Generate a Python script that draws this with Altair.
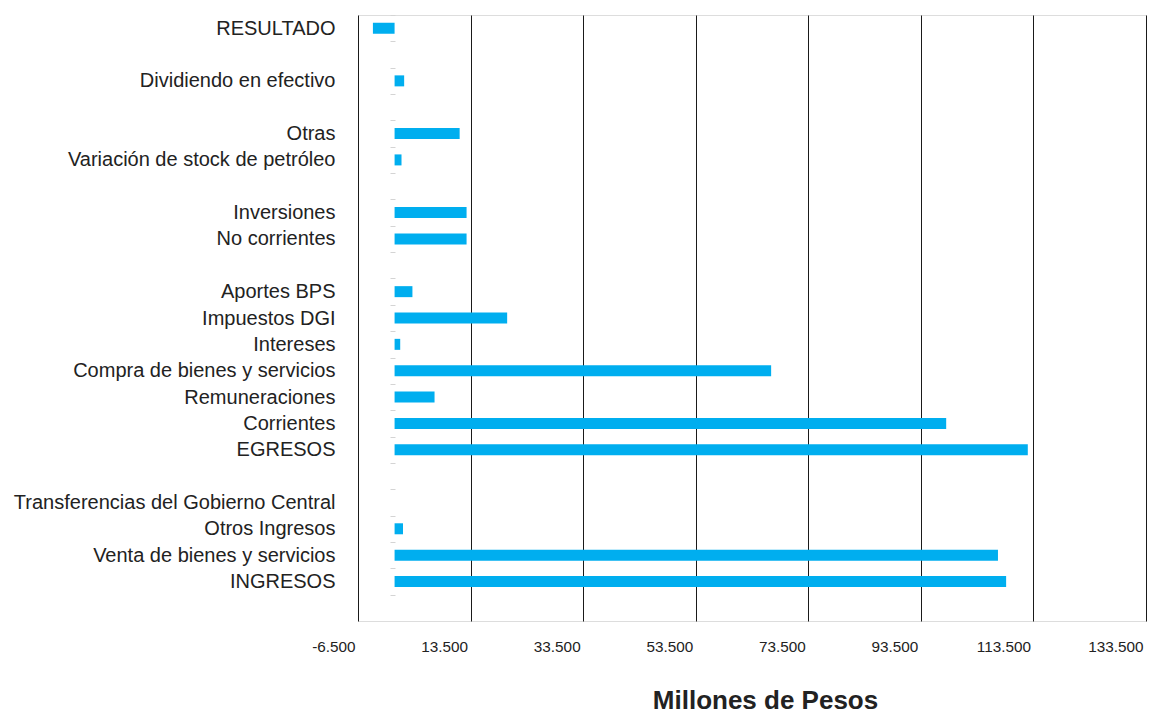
import altair as alt
import pandas as pd

# Row order (top to bottom); blank strings are empty separator rows
row_order = [
    "RESULTADO", " ",
    "Dividiendo en efectivo", "  ",
    "Otras", "Variación de stock de petróleo", "   ",
    "Inversiones", "No corrientes", "    ",
    "Aportes BPS", "Impuestos DGI", "Intereses", "Compra de bienes y servicios",
    "Remuneraciones", "Corrientes", "EGRESOS", "     ",
    "Transferencias del Gobierno Central", "Otros Ingresos",
    "Venta de bienes y servicios", "INGRESOS",
]

items = [
    "RESULTADO", "Dividiendo en efectivo", "Otras", "Variación de stock de petróleo",
    "Inversiones", "No corrientes", "Aportes BPS", "Impuestos DGI", "Intereses",
    "Compra de bienes y servicios", "Remuneraciones", "Corrientes", "EGRESOS",
    "Transferencias del Gobierno Central", "Otros Ingresos",
    "Venta de bienes y servicios", "INGRESOS",
]
values = [
    -3850, 1700, 11560, 1230,
    12790, 12790, 3170, 20000, 1000,
    66900, 7100, 98000, 112500,
    0, 1500,
    107200, 108650,
]

tick_values = [-6500, 13500, 33500, 53500, 73500, 93500, 113500, 133500]

df = pd.DataFrame({"item": items, "value": values})

chart = (
    alt.Chart(df)
    .mark_bar(size=11, color="#00AEEF")
    .encode(
        x=alt.X(
            "value:Q",
            scale=alt.Scale(domain=[-6500, 133500], nice=False, zero=False),
            axis=alt.Axis(
                values=tick_values,
                grid=True,
                gridColor="#1a1a1a",
                gridWidth=1,
                domain=False,
                ticks=False,
                labelExpr="replace(replace(format(datum.value, ','), ',', '.'), '\u2212', '-')",
                labelFont="Liberation Sans",
                labelFontSize=15.3,
                labelColor="#222222",
                labelAlign="right",
                labelOffset=-3,
                labelPadding=18,
                title="Millones de Pesos",
                titleFont="Liberation Sans",
                titleFontSize=26,
                titleFontWeight="bold",
                titleColor="#222222",
                titleBaseline="alphabetic",
                titleAlign="center",
                titleX=407,
                titleY=87,
            ),
        ),
        y=alt.Y(
            "item:N",
            sort=row_order,
            scale=alt.Scale(domain=row_order, paddingInner=0, paddingOuter=0.5, align=0),
            axis=alt.Axis(
                title=None,
                domain=False,
                grid=False,
                offset=-37,
                tickBand="extent",
                tickColor="#d4d4d4",
                tickSize=5,
                tickWidth=1,
                labelPadding=55,
                labelFont="Liberation Sans",
                labelFontSize=20,
                labelColor="#222222",
                labelLimit=0,
            ),
        ),
    )
    .properties(
        width=788,
        height=606,
        padding={"left": 350, "top": 7, "right": 1, "bottom": 94},
        autosize=alt.AutoSizeParams(type="none"),
    )
    .configure_view(stroke=None)
    .configure(background="white")
)

chart.save("out.html", embed_options={"renderer": "svg", "actions": False})
